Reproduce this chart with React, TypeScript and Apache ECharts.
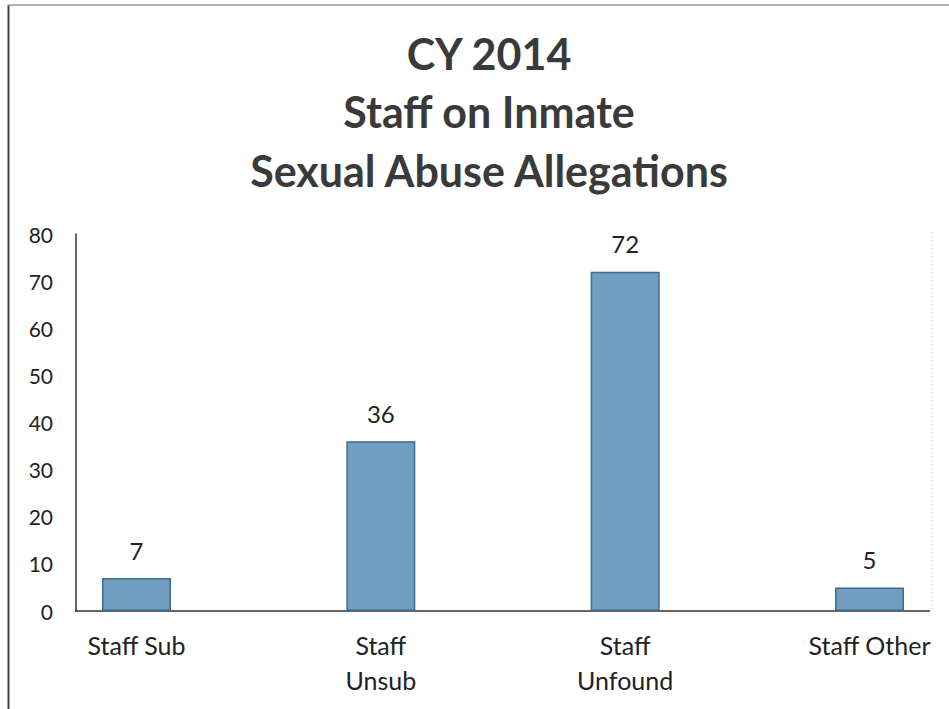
import React, { useEffect, useRef } from "react";
import * as echarts from "echarts";

const titleLines = ["CY 2014", "Staff on Inmate", "Sexual Abuse Allegations"];
const categories = ["Staff Sub", "Staff\nUnsub", "Staff\nUnfound", "Staff Other"];
const values = [7, 36, 72, 5];
const yTicks = { min: 0, max: 80, interval: 10 };

const FONT = "Lato, 'Open Sans', sans-serif";

export default function App() {
  const ref = useRef<HTMLDivElement>(null);
  useEffect(() => {
    if (!ref.current) return;
    const chart = echarts.init(ref.current, null, { renderer: "svg" });
    chart.setOption({
      animation: false,
      backgroundColor: "#ffffff",
      title: {
        text: titleLines.join("\n"),
        left: 484,
        textAlign: "center",
        top: 19,
        textStyle: {
          fontFamily: FONT,
          fontWeight: "bold",
          fontSize: 43,
          lineHeight: 58.5,
          color: "#3a3a3a",
        },
      },
      grid: { left: 136.5, right: 79.5, top: 234, bottom: 98, containLabel: false },
      xAxis: {
        type: "category",
        data: categories,
        boundaryGap: false,
        axisLine: { show: false },
        axisTick: { show: false },
        splitLine: { show: false },
        axisLabel: {
          margin: 16,
          fontFamily: FONT,
          fontSize: 25,
          lineHeight: 35,
          color: "#222",
          interval: 0,
        },
      },
      yAxis: {
        type: "value",
        min: yTicks.min,
        max: yTicks.max,
        interval: yTicks.interval,
        offset: 60.5,
        axisLine: { show: true, lineStyle: { color: "#333", width: 1.5 } },
        axisTick: { show: false },
        splitLine: { show: false },
        axisLabel: {
          margin: 23,
          fontFamily: FONT,
          fontSize: 21,
          color: "#222",
        },
      },
      series: [
        {
          type: "bar",
          data: values,
          barWidth: 69,
          itemStyle: { color: "#6f9ebf", borderColor: "#3b6b8d", borderWidth: 1.5 },
          label: {
            show: true,
            position: "top",
            distance: 16,
            fontFamily: FONT,
            fontSize: 24,
            color: "#222",
          },
        },
      ],
      graphic: [
        { type: "line", shape: { x1: 75, y1: 611, x2: 930, y2: 611 }, style: { stroke: "#333", lineWidth: 1.5 } },
        { type: "line", shape: { x1: 932, y1: 232, x2: 932, y2: 610 }, style: { stroke: "#d8d8d8", lineWidth: 1, lineDash: [2, 2] } },
        { type: "line", shape: { x1: 8.5, y1: 5, x2: 8.5, y2: 709 }, style: { stroke: "#444", lineWidth: 2 } },
        { type: "line", shape: { x1: 8, y1: 5, x2: 949, y2: 5 }, style: { stroke: "#999", lineWidth: 1.5 } },
      ],
    });
    return () => chart.dispose();
  }, []);
  return (
    <div
      ref={ref}
      style={{ position: "fixed", left: 0, top: 0, width: 949, height: 709 }}
    />
  );
}
